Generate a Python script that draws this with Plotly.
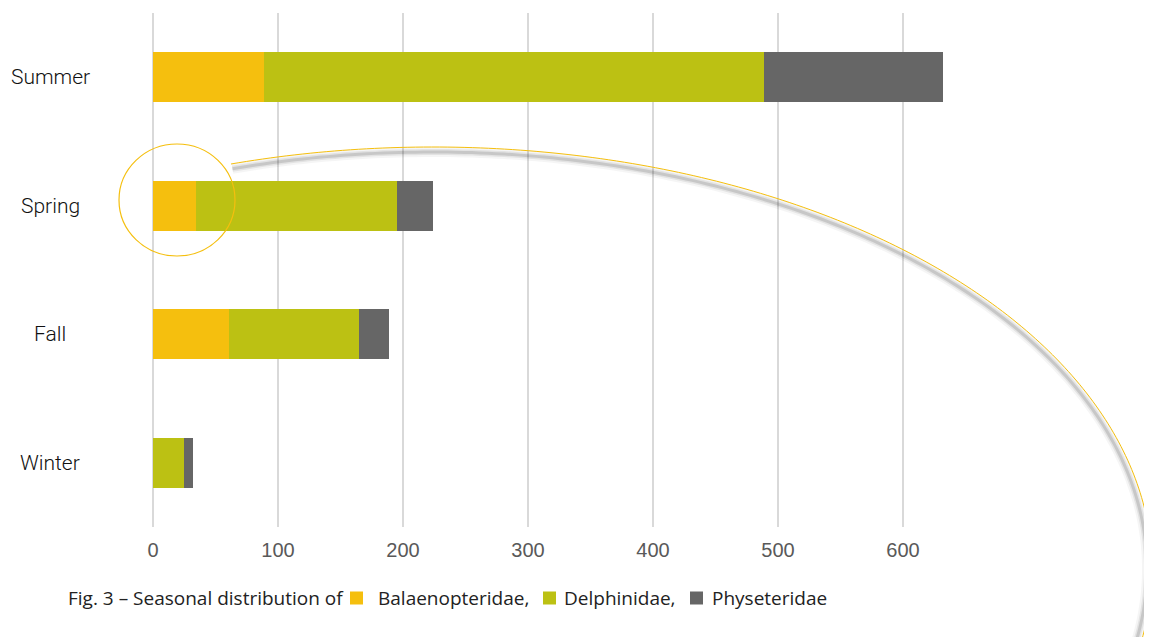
import numpy as np
import plotly.graph_objects as go

# ---- data ----
seasons = ["Summer", "Spring", "Fall", "Winter"]
balaenopteridae = [89, 34, 61, 0]
delphinidae = [400, 161, 104, 25]
physeteridae = [143, 29, 24, 7]
families = ["Balaenopteridae", "Delphinidae", "Physeteridae"]
x_ticks = [0, 100, 200, 300, 400, 500, 600]
caption = "Fig. 3 – Seasonal distribution of"

# page body has an 8px margin: size the figure so it fills the window
OFF = 8
W, H = 1152, 637
FW, FH = W - OFF, H - OFF
def px(x):
    return (x - OFF) / FW
def py(y):
    return 1 - (y - OFF) / FH

fam_colors = ["#F5BF0E", "#BCC113", "#666666"]

fig = go.Figure()
for name, vals, col in zip(families, [balaenopteridae, delphinidae, physeteridae], fam_colors):
    fig.add_trace(go.Bar(y=seasons, x=vals, orientation="h", name=name,
                         marker=dict(color=col, line=dict(width=0)),
                         showlegend=False, hoverinfo="x+name"))

shapes = []
# decorative arc (with soft shadow)
def arc_path(cx, cy, a, b, t0, t1, n=180):
    t = np.linspace(t0, t1, n)
    xs = cx + a * np.cos(t)
    ys = cy - b * np.sin(t)
    pts = [f"{px(x):.5f},{py(y):.5f}" for x, y in zip(xs, ys)]
    return "M" + " L".join(pts)

cx, cy, a, b = 433, 569, 719, 422
t0 = np.arccos(-202 / a)
t1 = -np.arcsin((640 - cy) / b)
for w, col, da in [(10, "rgba(0,0,0,0.04)", 5), (6, "rgba(0,0,0,0.07)", 5), (3, "rgba(0,0,0,0.12)", 5)]:
    shapes.append(dict(type="path", xref="paper", yref="paper", layer="above",
                       path=arc_path(cx, cy, a - da, b - da, t0, t1),
                       line=dict(color=col, width=w)))
shapes.append(dict(type="path", xref="paper", yref="paper", layer="above",
                   path=arc_path(cx, cy, a, b, t0, t1),
                   line=dict(color="#F5BF0E", width=1)))
# highlight circle
shapes.append(dict(type="circle", xref="paper", yref="paper", layer="above",
                   x0=px(119), x1=px(235), y0=py(256), y1=py(144),
                   line=dict(color="#F5BF0E", width=1.2)))

annotations = []
for s in seasons:
    annotations.append(dict(text=s, xref="paper", yref="y", x=px(50), y=s,
                            xanchor="center", yanchor="middle", showarrow=False,
                            font=dict(family="Roboto", weight=300,
                                      size=21, color="#111111")))

# caption with inline colour keys
cap_font = dict(family="Open Sans", size=19, color="#222222")
cap_y = 598
annotations.append(dict(text=caption, xref="paper", yref="paper", x=px(66), y=py(cap_y),
                        xanchor="left", yanchor="middle", showarrow=False, font=cap_font))
key_x = [350, 543, 690]
label_x = [376, 562, 710]
suffix = [",", ",", ""]
for name, col, kx, lx, sfx in zip(families, fam_colors, key_x, label_x, suffix):
    shapes.append(dict(type="rect", xref="paper", yref="paper", layer="above",
                       x0=px(kx), x1=px(kx + 13), y0=py(cap_y + 6.5), y1=py(cap_y - 6.5),
                       fillcolor=col, line=dict(width=0)))
    annotations.append(dict(text=name + sfx, xref="paper", yref="paper", x=px(lx), y=py(cap_y),
                            xanchor="left", yanchor="middle", showarrow=False, font=cap_font))

fig.update_layout(
    width=FW, height=FH,
    margin=dict(l=0, r=0, t=0, b=0, autoexpand=False),
    paper_bgcolor="white", plot_bgcolor="white",
    barmode="stack", bargap=0.61,
    showlegend=False,
    xaxis=dict(domain=[px(153), px(153 + 937.5)], range=[0, 750], automargin=False,
               tickvals=x_ticks, ticktext=[str(v) for v in x_ticks],
               showgrid=True, gridcolor="#D9D9D9", gridwidth=2,
               zeroline=True, zerolinecolor="#D9D9D9", zerolinewidth=2,
               showline=False, ticks="", ticklabelstandoff=9,
               tickfont=dict(family="Liberation Sans, Arial", size=20, color="#595959"),
               fixedrange=True),
    yaxis=dict(domain=[py(527), py(13)], range=[3.5, -0.5], type="category", automargin=False,
               showticklabels=False, showgrid=False, zeroline=False, ticks="",
               fixedrange=True),
    shapes=shapes,
    annotations=annotations,
)

fig.write_html("out.html")
